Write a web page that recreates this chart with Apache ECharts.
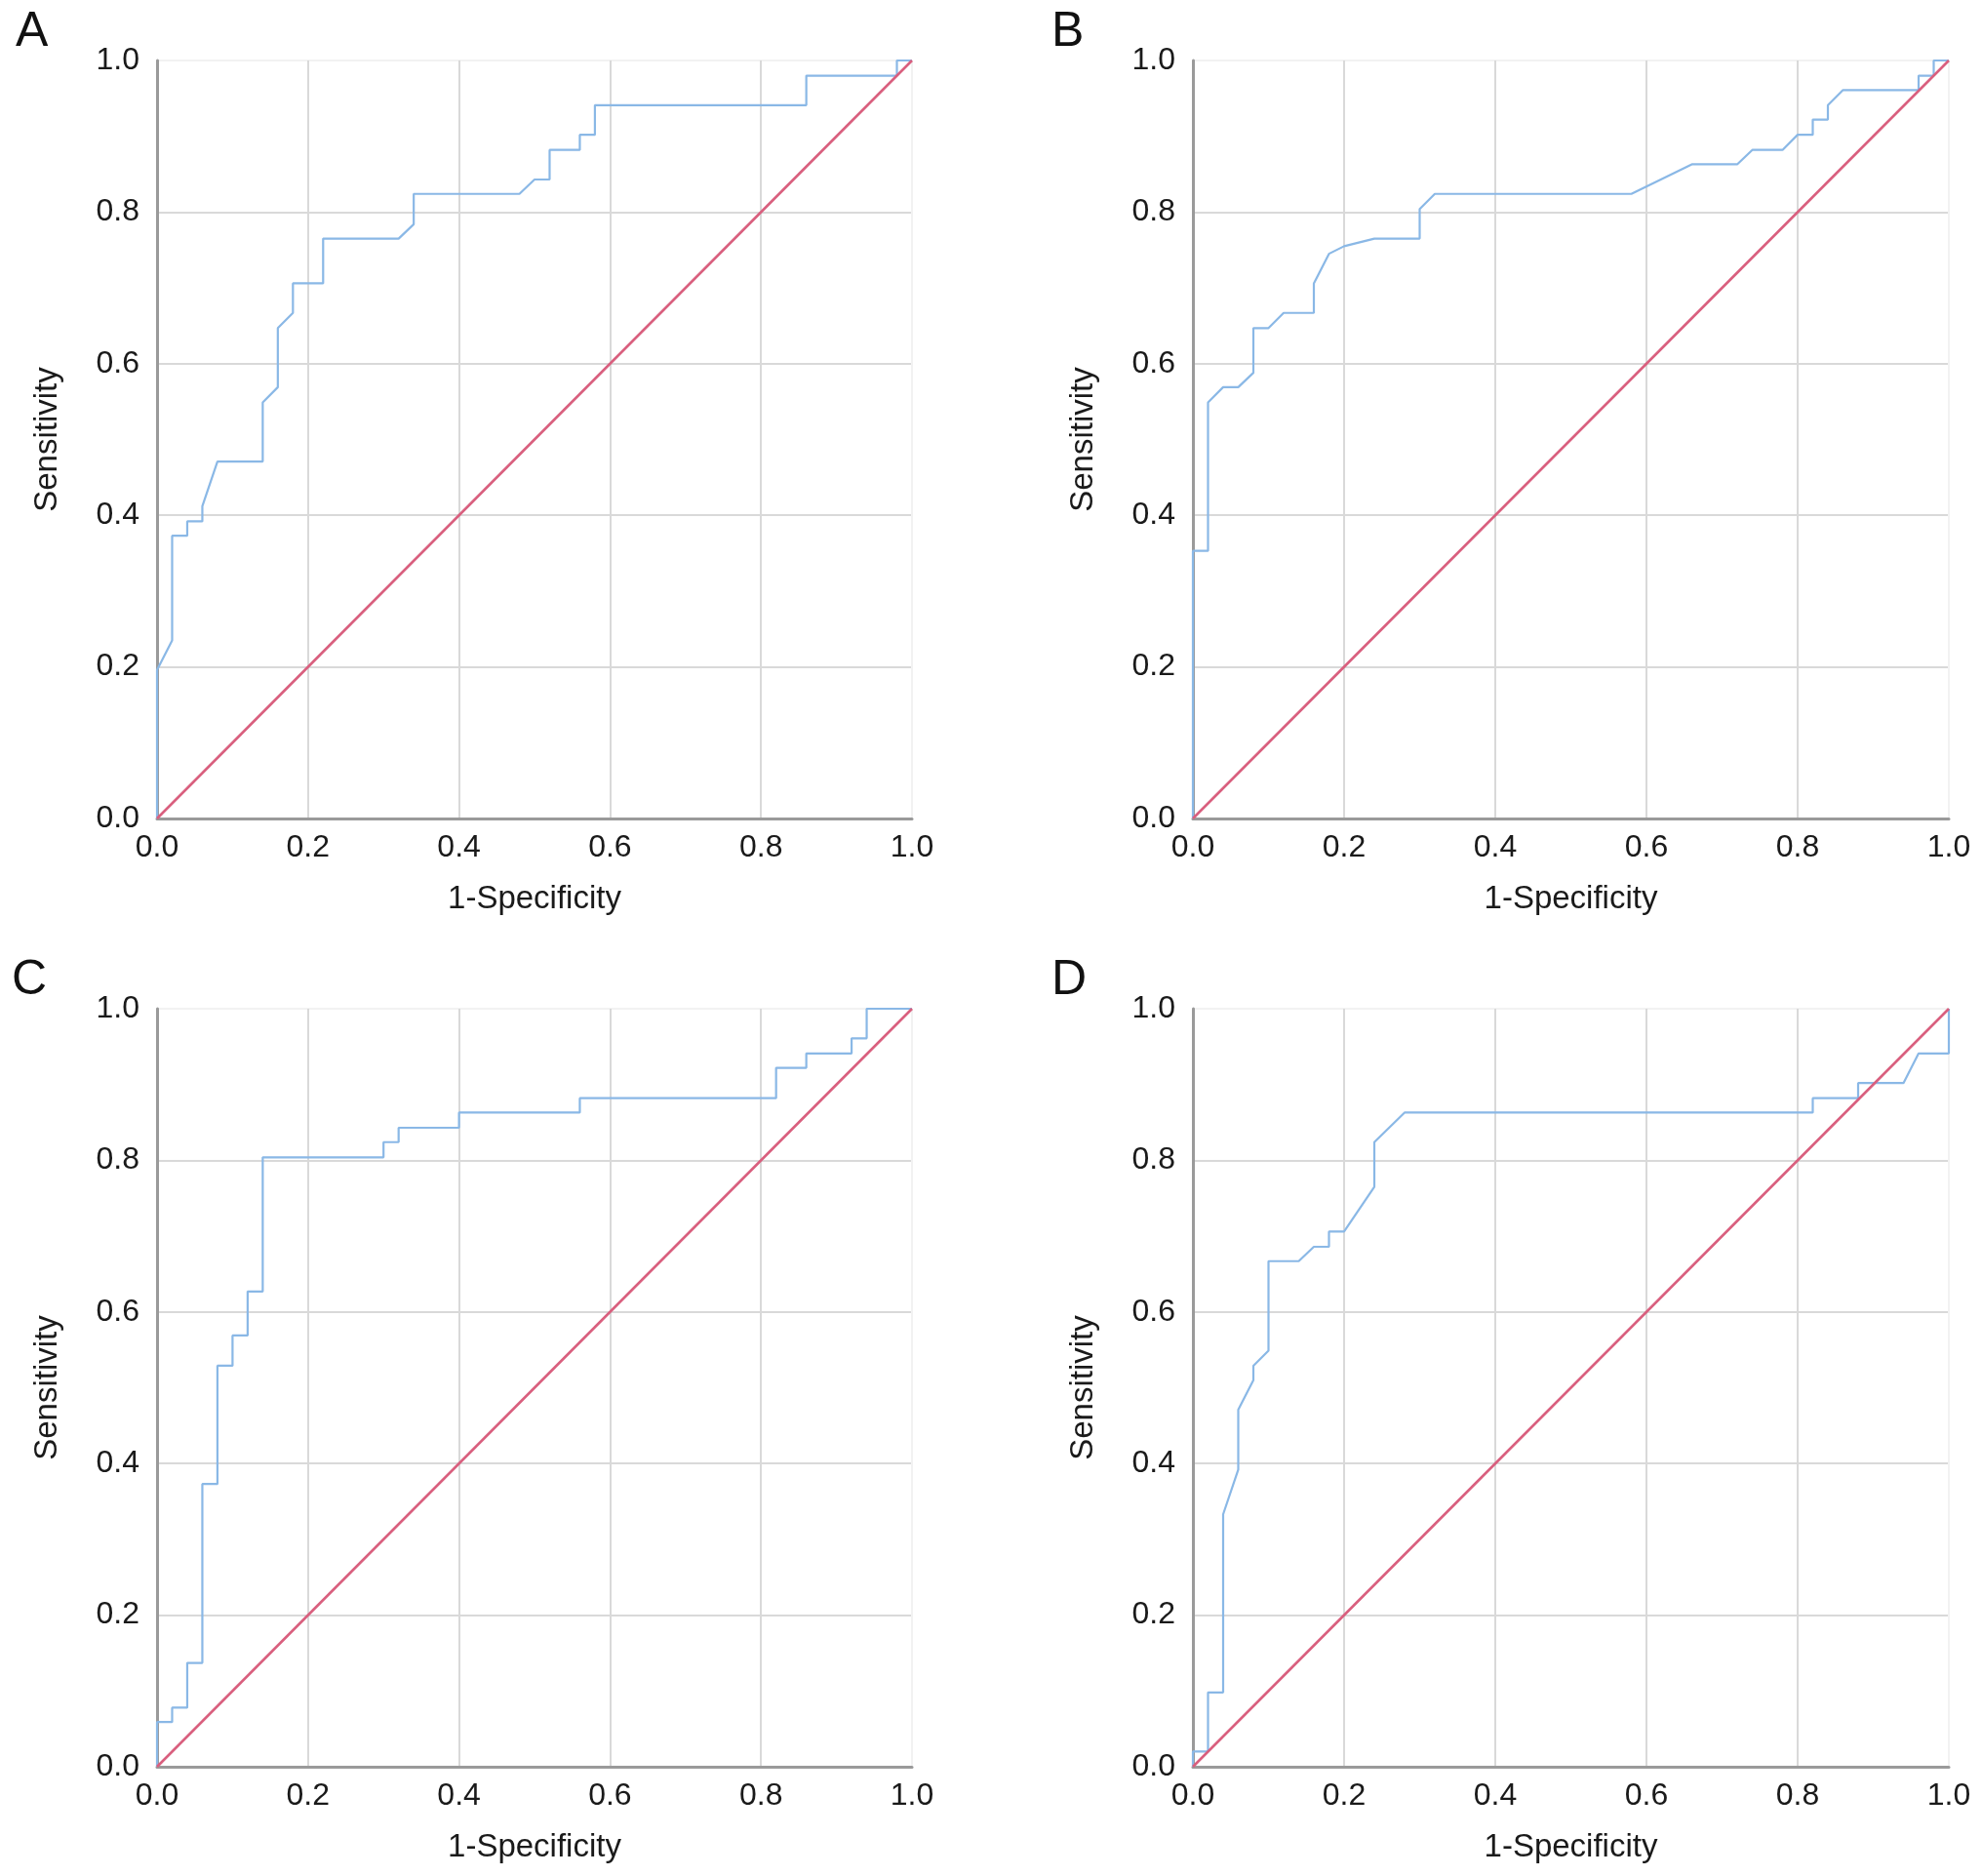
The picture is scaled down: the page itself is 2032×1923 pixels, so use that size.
<!DOCTYPE html>
<html>
<head>
<meta charset="utf-8">
<script src="https://cdn.jsdelivr.net/npm/echarts@6/dist/echarts.min.js"></script>
<style>
html,body{margin:0;padding:0;background:#fff;}
#chart{width:2032px;height:1923px;}
</style>
</head>
<body>
<div id="chart"></div>
<script>
// Panel labels
const panelLabels = ['A', 'B', 'C', 'D'];
const tickValues = [0, 0.2, 0.4, 0.6, 0.8, 1.0];
const xAxisName = '1-Specificity';
const yAxisName = 'Sensitivity';

// ROC curve A (1-specificity, sensitivity)
const fprA = [0, 0, 0.02, 0.02, 0.04, 0.04, 0.06, 0.06, 0.08, 0.14, 0.14, 0.16, 0.16, 0.18, 0.18, 0.22, 0.22, 0.32, 0.34, 0.34, 0.48, 0.50, 0.52, 0.52, 0.56, 0.56, 0.58, 0.58, 0.86, 0.86, 0.98, 0.98, 1.0];
const tprA = [0, 0.196, 0.235, 0.373, 0.373, 0.392, 0.392, 0.412, 0.471, 0.471, 0.549, 0.569, 0.647, 0.667, 0.706, 0.706, 0.765, 0.765, 0.784, 0.824, 0.824, 0.843, 0.843, 0.882, 0.882, 0.902, 0.902, 0.941, 0.941, 0.980, 0.980, 1.0, 1.0];

// ROC curve B
const fprB = [0, 0, 0.02, 0.02, 0.04, 0.06, 0.08, 0.08, 0.10, 0.12, 0.16, 0.16, 0.18, 0.20, 0.24, 0.30, 0.30, 0.32, 0.58, 0.66, 0.72, 0.74, 0.78, 0.80, 0.82, 0.82, 0.84, 0.84, 0.86, 0.96, 0.96, 0.98, 0.98, 1.0];
const tprB = [0, 0.353, 0.353, 0.549, 0.569, 0.569, 0.588, 0.647, 0.647, 0.667, 0.667, 0.706, 0.745, 0.755, 0.765, 0.765, 0.804, 0.824, 0.824, 0.863, 0.863, 0.882, 0.882, 0.902, 0.902, 0.922, 0.922, 0.941, 0.961, 0.961, 0.980, 0.980, 1.0, 1.0];

// ROC curve C
const fprC = [0, 0, 0.02, 0.02, 0.04, 0.04, 0.06, 0.06, 0.08, 0.08, 0.10, 0.10, 0.12, 0.12, 0.14, 0.14, 0.30, 0.30, 0.32, 0.32, 0.40, 0.40, 0.56, 0.56, 0.82, 0.82, 0.86, 0.86, 0.92, 0.92, 0.94, 0.94, 1.0];
const tprC = [0, 0.059, 0.059, 0.078, 0.078, 0.137, 0.137, 0.373, 0.373, 0.529, 0.529, 0.569, 0.569, 0.627, 0.627, 0.804, 0.804, 0.824, 0.824, 0.843, 0.843, 0.863, 0.863, 0.882, 0.882, 0.922, 0.922, 0.941, 0.941, 0.961, 0.961, 1.0, 1.0];

// ROC curve D
const fprD = [0, 0, 0.02, 0.02, 0.04, 0.04, 0.06, 0.06, 0.08, 0.08, 0.10, 0.10, 0.14, 0.16, 0.18, 0.18, 0.20, 0.24, 0.24, 0.28, 0.82, 0.82, 0.88, 0.88, 0.94, 0.96, 1.0, 1.0];
const tprD = [0, 0.020, 0.020, 0.098, 0.098, 0.333, 0.392, 0.471, 0.510, 0.529, 0.549, 0.667, 0.667, 0.686, 0.686, 0.706, 0.706, 0.765, 0.824, 0.863, 0.863, 0.882, 0.882, 0.902, 0.902, 0.941, 0.941, 1.0];

// Reference diagonal
const diagX = [0, 1];
const diagY = [0, 1];

const curves = [[fprA, tprA], [fprB, tprB], [fprC, tprC], [fprD, tprD]];

const grids = [
  {left: 161, top: 62, width: 774, height: 777},
  {left: 1223, top: 62, width: 775, height: 777},
  {left: 161, top: 1034, width: 774, height: 777},
  {left: 1223, top: 1034, width: 775, height: 777}
];
const labelPos = [
  {left: 16, top: 8},
  {left: 1078, top: 8},
  {left: 12, top: 980},
  {left: 1078, top: 980}
];

const FONT = 'Liberation Sans, Arial, Helvetica, sans-serif';
const splitColors = ['#d9d9d9', '#d9d9d9', '#d9d9d9', '#d9d9d9', '#d9d9d9', '#f2f2f2'];

function axisCommon() {
  return {
    type: 'value', min: 0, max: 1, interval: 0.2,
    axisLine: {show: true, lineStyle: {color: '#9a9a9a', width: 3}},
    axisTick: {show: false},
    splitLine: {show: true, lineStyle: {color: splitColors, width: 2}},
    axisLabel: {fontSize: 32, color: '#1a1a1a', fontFamily: FONT,
      formatter: v => v.toFixed(1)},
    nameTextStyle: {fontSize: 33, color: '#1a1a1a', fontFamily: FONT}
  };
}

const option = {
  animation: false,
  backgroundColor: '#fff',
  title: panelLabels.map((t, i) => ({
    text: t, left: labelPos[i].left, top: labelPos[i].top, padding: 0,
    textStyle: {fontSize: 50, fontWeight: 'normal', color: '#111', fontFamily: FONT}
  })),
  grid: grids.map(g => Object.assign({containLabel: false}, g)),
  xAxis: grids.map((g, i) => Object.assign(axisCommon(), {
    gridIndex: i, name: xAxisName, nameLocation: 'middle', nameGap: 66,
    axisLabel: Object.assign(axisCommon().axisLabel, {margin: 14})
  })),
  yAxis: grids.map((g, i) => Object.assign(axisCommon(), {
    gridIndex: i, name: yAxisName, nameLocation: 'middle', nameGap: 96,
    axisLabel: Object.assign(axisCommon().axisLabel, {margin: 18})
  })),
  series: []
};

curves.forEach((c, i) => {
  option.series.push({
    type: 'line', xAxisIndex: i, yAxisIndex: i,
    data: c[0].map((x, k) => [x, c[1][k]]),
    showSymbol: false, symbol: 'none',
    lineStyle: {color: '#8ab8e6', width: 2.2},
    z: 3
  });
  option.series.push({
    type: 'line', xAxisIndex: i, yAxisIndex: i,
    data: diagX.map((x, k) => [x, diagY[k]]),
    showSymbol: false, symbol: 'none',
    lineStyle: {color: '#d95f7e', width: 2.6},
    z: 4
  });
});

const chart = echarts.init(document.getElementById('chart'), null, {renderer: 'canvas'});
chart.setOption(option);
</script>
</body>
</html>
